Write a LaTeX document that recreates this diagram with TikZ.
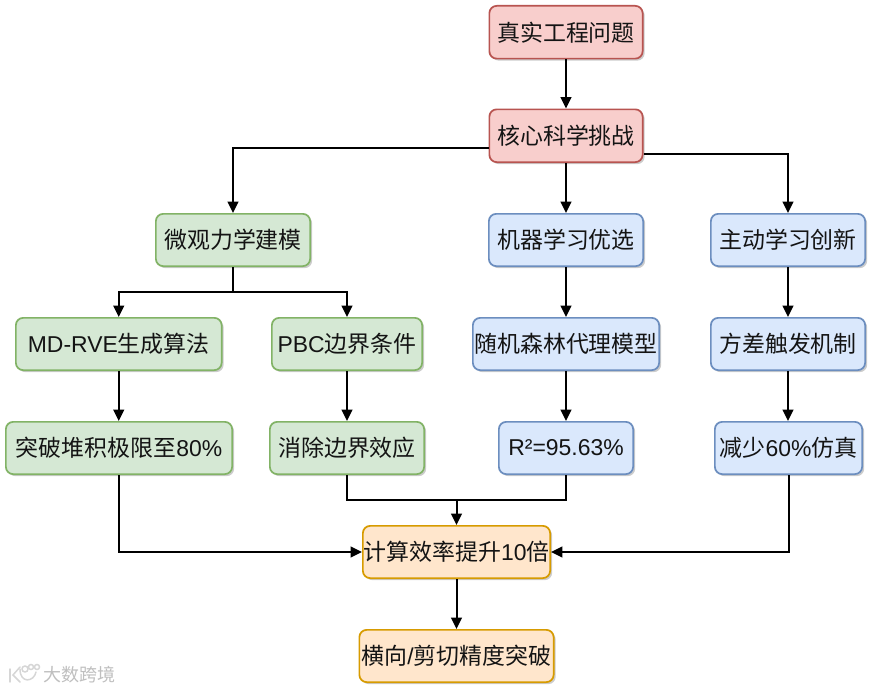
\documentclass[tikz,border=0pt]{standalone}
\usepackage{fontspec}
\setmainfont{Liberation Sans}
\newfontfamily\cjk{Noto Sans CJK SC}
\usetikzlibrary{arrows.meta,shadows,positioning}
\definecolor{redF}{HTML}{F8CECC}\definecolor{redD}{HTML}{B85450}
\definecolor{greenF}{HTML}{D5E8D4}\definecolor{greenD}{HTML}{82B366}
\definecolor{blueF}{HTML}{DAE8FC}\definecolor{blueD}{HTML}{6C8EBF}
\definecolor{orangeF}{HTML}{FFE6CC}\definecolor{orangeD}{HTML}{D79B00}
\newcommand{\cn}[1]{{\cjk #1}}
\tikzset{
 boxbase/.style={rectangle,rounded corners=5.5pt,line width=1.3pt,inner sep=0pt,
   font=\fontsize{17.2}{19}\selectfont,text=black!92,
   drop shadow={shadow xshift=1.5pt,shadow yshift=-1.5pt,opacity=0.2,fill=black}},
 redbox/.style={boxbase,draw=redD,fill=redF},
 greenbox/.style={boxbase,draw=greenD,fill=greenF},
 bluebox/.style={boxbase,draw=blueD,fill=blueF},
 orangebox/.style={boxbase,draw=orangeD,fill=orangeF},
 link/.style={draw=black,line width=1.5pt,-{Triangle[length=8.5pt,width=8pt]}},
 plainlink/.style={draw=black,line width=1.5pt},
 mark text/.style={font=\fontsize{13.5}{15}\selectfont\cjk,text=black!25}
}
\newcommand{\bx}[7]{\node[#1,minimum width=#5*0.75pt-1.3pt,minimum height=#6*0.75pt-1.3pt,anchor=center] (#2) at ({(#3+#5/2)},{(#4+#6/2)}) {#7};}
\begin{document}
\begin{tikzpicture}[x=0.75pt,y=-0.75pt]
\useasboundingbox (0,0) rectangle (874,692);
\fill[white] (0,0) rectangle (874,692);
\bx{redbox}{real}{488.5}{5}{155}{54.5}{\cn{真实工程问题}}
\bx{redbox}{core}{488.5}{108.5}{155}{54.5}{\cn{核心科学挑战}}
\bx{greenbox}{micro}{155}{213}{156}{54}{\cn{微观力学建模}}
\bx{bluebox}{ml}{488}{213}{156}{54}{\cn{机器学习优选}}
\bx{bluebox}{al}{710}{213}{156}{54}{\cn{主动学习创新}}
\bx{greenbox}{md}{15}{317}{207.5}{54}{MD-RVE\cn{生成算法}}
\bx{greenbox}{pbc}{271}{317}{152}{54}{PBC\cn{边界条件}}
\bx{bluebox}{rf}{472}{317}{188}{54}{\cn{随机森林代理模型}}
\bx{bluebox}{var}{710}{317}{156}{54}{\cn{方差触发机制}}
\bx{greenbox}{pack}{5}{421}{228}{54}{\cn{突破堆积极限至}80\%}
\bx{greenbox}{edge}{269}{421}{156}{54}{\cn{消除边界效应}}
\bx{bluebox}{r2}{498}{421}{136}{54}{R²=95.63\%}
\bx{bluebox}{less}{714}{421}{149}{54}{\cn{减少}60\%\cn{仿真}}
\bx{orangebox}{eff}{362}{525}{189}{54}{\cn{计算效率提升}10\cn{倍}}
\bx{orangebox}{prec}{358.5}{629}{196}{54}{\cn{横向}/\cn{剪切精度突破}}
\coordinate (split) at (233,292);
\coordinate (join) at (456.5,500);
\coordinate (coreL) at (488.5,148);
\coordinate (coreR) at (643.5,154);
\path[link] (real) -- (core);
\path[link] (coreL) -| (micro.north);
\path[link] (core) -- (ml);
\path[link] (coreR) -| (al.north);
\path[plainlink] (micro.south) -- (split);
\path[link] (split) -| (md.north);
\path[link] (split) -| (pbc.north);
\path[link] (ml) -- (rf);
\path[link] (al) -- (var);
\path[link] (md) -- (md|-pack.north);
\path[link] (pbc) -- (pbc|-edge.north);
\path[link] (rf) -- (r2);
\path[link] (var) -- (var|-less.north);
\path[plainlink] (edge.south) |- (join);
\path[plainlink] (r2.south) |- (join);
\path[link] (join) -- (eff.north);
\path[link] (pack.south) |- (eff.west);
\path[link] (less.south) |- (eff.east);
\path[link] (eff) -- (prec);
% watermark
\begin{scope}[draw=black!16,line width=1.1pt,line cap=round]
\draw (10,669) -- (10,682);
\draw (20,667) -- (13,675) -- (20,682);
\draw (20,669) .. controls (20,684) and (34,682) .. (36,672);
\draw (25,669) circle[radius=3];
\draw (31,667) circle[radius=2.5];
\draw (37,667) circle[radius=2.5];
\end{scope}
\node[mark text,anchor=west,inner sep=0pt] (wm) at (43,675) {大数跨境};
\end{tikzpicture}
\end{document}
